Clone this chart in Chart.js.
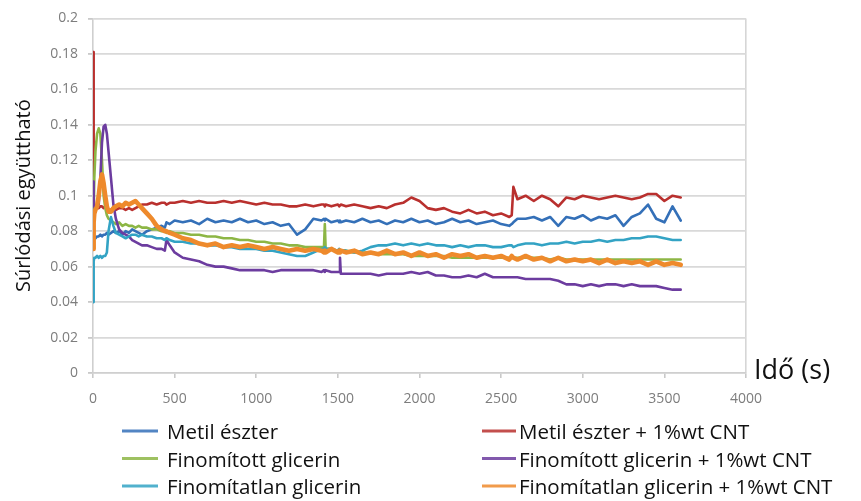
<!DOCTYPE html>
<html>
<head>
<meta charset="utf-8">
<script src="https://cdn.jsdelivr.net/npm/chart.js@4/dist/chart.umd.min.js"></script>
<style>
  html, body { margin: 0; padding: 0; background: #ffffff; }
  canvas { display: block; }
</style>
</head>
<body>
<canvas id="chart" width="861" height="501"></canvas>
<script>
// Measurement times (s)
const seconds = [
  0, 4, 8, 15, 25, 35, 45, 55, 65, 75, 85, 95, 110, 125, 140, 160, 180, 200, 220, 240, 260, 280, 300, 330, 360, 390, 420, 440, 450, 470, 500,
  550, 600, 650, 700, 750, 800, 850, 900, 950, 1000, 1050, 1100, 1150, 1200, 1250, 1300, 1350, 1400,
  1415, 1420, 1425, 1460, 1500, 1508, 1513, 1518,
  1550, 1600, 1650, 1700, 1750, 1800, 1850, 1900, 1950, 2000, 2050, 2100, 2150, 2200, 2250, 2300, 2350, 2400, 2450, 2500, 2550,
  2565, 2575,
  2600, 2650, 2700, 2750, 2800, 2850, 2900, 2950, 3000, 3050, 3100, 3150, 3200, 3250, 3300, 3350, 3400, 3450, 3500, 3550, 3600
];

// Friction coefficient per lubricant
const metilEszter = [
  0.074, 0.075, 0.076, 0.076, 0.077, 0.077, 0.078, 0.077, 0.078, 0.078, 0.079, 0.078, 0.079, 0.080, 0.079, 0.080, 0.078, 0.080, 0.079, 0.081, 0.080, 0.079, 0.078, 0.080, 0.081, 0.082, 0.083, 0.082, 0.085, 0.084, 0.086,
  0.085, 0.086, 0.084, 0.087, 0.085, 0.086, 0.085, 0.087, 0.085, 0.086, 0.084, 0.085, 0.083, 0.084, 0.078, 0.081, 0.087, 0.086,
  0.087, 0.086, 0.087, 0.085, 0.086, 0.085, 0.086, 0.085,
  0.086, 0.085, 0.087, 0.085, 0.086, 0.084, 0.086, 0.085, 0.087, 0.085, 0.086, 0.084, 0.085, 0.087, 0.085, 0.086, 0.084, 0.085, 0.086, 0.084, 0.083,
  0.084, 0.085,
  0.087, 0.087, 0.088, 0.086, 0.088, 0.083, 0.088, 0.087, 0.089, 0.086, 0.088, 0.087, 0.089, 0.083, 0.088, 0.090, 0.095, 0.087, 0.085, 0.094, 0.086
];
const metilEszterCNT = [
  0.181, 0.092, 0.090, 0.092, 0.093, 0.093, 0.094, 0.094, 0.093, 0.094, 0.093, 0.092, 0.092, 0.093, 0.092, 0.093, 0.093, 0.092, 0.093, 0.092, 0.093, 0.094, 0.095, 0.095, 0.096, 0.095, 0.096, 0.096, 0.095, 0.096, 0.096,
  0.097, 0.096, 0.097, 0.096, 0.096, 0.097, 0.096, 0.097, 0.096, 0.095, 0.096, 0.095, 0.095, 0.094, 0.094, 0.095, 0.094, 0.095,
  0.095, 0.094, 0.095, 0.094, 0.095, 0.094, 0.094, 0.095,
  0.094, 0.095, 0.094, 0.093, 0.094, 0.093, 0.095, 0.096, 0.099, 0.097, 0.093, 0.092, 0.093, 0.091, 0.090, 0.092, 0.090, 0.091, 0.089, 0.090, 0.088,
  0.089, 0.105,
  0.098, 0.100, 0.097, 0.100, 0.098, 0.094, 0.099, 0.098, 0.100, 0.099, 0.098, 0.099, 0.100, 0.099, 0.098, 0.099, 0.101, 0.101, 0.097, 0.100, 0.099
];
const finomitottGlicerin = [
  0.080, 0.090, 0.110, 0.125, 0.135, 0.138, 0.135, 0.120, 0.100, 0.093, 0.089, 0.087, 0.086, 0.085, 0.084, 0.085, 0.083, 0.084, 0.083, 0.083, 0.082, 0.083, 0.082, 0.082, 0.081, 0.081, 0.080, 0.080, 0.079, 0.080, 0.079,
  0.079, 0.078, 0.078, 0.077, 0.077, 0.076, 0.076, 0.075, 0.075, 0.074, 0.074, 0.073, 0.073, 0.072, 0.072, 0.071, 0.071, 0.071,
  0.071, 0.084, 0.070, 0.070, 0.069, 0.069, 0.069, 0.069,
  0.069, 0.068, 0.068, 0.068, 0.067, 0.067, 0.067, 0.067, 0.066, 0.066, 0.066, 0.066, 0.066, 0.065, 0.065, 0.065, 0.065, 0.065, 0.065, 0.065, 0.065,
  0.065, 0.065,
  0.065, 0.065, 0.065, 0.065, 0.064, 0.065, 0.064, 0.064, 0.064, 0.064, 0.064, 0.064, 0.064, 0.064, 0.064, 0.064, 0.064, 0.064, 0.064, 0.064, 0.064
];
const finomitottGlicerinCNT = [
  0.108, 0.098, 0.094, 0.092, 0.093, 0.095, 0.110, 0.130, 0.139, 0.140, 0.135, 0.125, 0.110, 0.095, 0.087, 0.081, 0.079, 0.078, 0.077, 0.075, 0.074, 0.073, 0.072, 0.072, 0.071, 0.070, 0.070, 0.069, 0.075, 0.072, 0.068,
  0.065, 0.064, 0.063, 0.061, 0.060, 0.060, 0.059, 0.058, 0.058, 0.058, 0.058, 0.057, 0.058, 0.058, 0.058, 0.058, 0.058, 0.057,
  0.058, 0.057, 0.058, 0.057, 0.057, 0.057, 0.065, 0.056,
  0.056, 0.056, 0.056, 0.056, 0.055, 0.056, 0.056, 0.056, 0.057, 0.056, 0.057, 0.055, 0.055, 0.054, 0.054, 0.055, 0.054, 0.056, 0.054, 0.054, 0.054,
  0.054, 0.054,
  0.054, 0.053, 0.053, 0.053, 0.053, 0.052, 0.050, 0.050, 0.049, 0.050, 0.049, 0.050, 0.050, 0.049, 0.050, 0.049, 0.049, 0.049, 0.048, 0.047, 0.047
];
const finomitatlanGlicerin = [
  0.040, 0.063, 0.065, 0.065, 0.066, 0.065, 0.066, 0.065, 0.066, 0.066, 0.068, 0.080, 0.088, 0.083, 0.079, 0.078, 0.077, 0.076, 0.077, 0.078, 0.078, 0.077, 0.078, 0.077, 0.077, 0.076, 0.076, 0.075, 0.076, 0.075, 0.074,
  0.074, 0.073, 0.073, 0.072, 0.072, 0.071, 0.071, 0.070, 0.070, 0.070, 0.069, 0.069, 0.068, 0.067, 0.066, 0.066, 0.068, 0.070,
  0.070, 0.071, 0.070, 0.070, 0.069, 0.070, 0.070, 0.069,
  0.069, 0.068, 0.069, 0.071, 0.072, 0.072, 0.073, 0.072, 0.073, 0.072, 0.073, 0.072, 0.072, 0.071, 0.072, 0.071, 0.072, 0.072, 0.071, 0.071, 0.072,
  0.072, 0.071,
  0.072, 0.073, 0.073, 0.072, 0.073, 0.073, 0.074, 0.073, 0.074, 0.074, 0.075, 0.074, 0.075, 0.075, 0.076, 0.076, 0.077, 0.077, 0.076, 0.075, 0.075
];
const finomitatlanGlicerinCNT = [
  0.070, 0.085, 0.090, 0.092, 0.094, 0.100, 0.108, 0.112, 0.107, 0.100, 0.094, 0.091, 0.091, 0.093, 0.094, 0.095, 0.094, 0.096, 0.095, 0.096, 0.097, 0.095, 0.093, 0.090, 0.087, 0.083, 0.081, 0.080, 0.080, 0.079, 0.078,
  0.076, 0.075, 0.073, 0.072, 0.073, 0.071, 0.072, 0.071, 0.072, 0.071, 0.070, 0.071, 0.070, 0.069, 0.070, 0.069, 0.070, 0.069,
  0.068, 0.069, 0.068, 0.070, 0.068, 0.069, 0.068, 0.069,
  0.068, 0.069, 0.067, 0.068, 0.067, 0.069, 0.067, 0.068, 0.066, 0.068, 0.066, 0.067, 0.065, 0.067, 0.066, 0.067, 0.065, 0.066, 0.065, 0.066, 0.064,
  0.066, 0.065,
  0.064, 0.066, 0.064, 0.065, 0.063, 0.065, 0.063, 0.064, 0.063, 0.064, 0.062, 0.064, 0.062, 0.063, 0.062, 0.063, 0.061, 0.063, 0.061, 0.062, 0.061
];

const seriesNames = [
  'Metil észter', 'Metil észter + 1%wt CNT',
  'Finomított glicerin', 'Finomított glicerin + 1%wt CNT',
  'Finomítatlan glicerin', 'Finomítatlan glicerin + 1%wt CNT'
];
const seriesValues = [metilEszter, metilEszterCNT, finomitottGlicerin, finomitottGlicerinCNT, finomitatlanGlicerin, finomitatlanGlicerinCNT];
const seriesColors = ['#3470B8', '#B9302E', '#8DB645', '#6C3C9F', '#33A3C4', '#EE8A2C'];
const seriesWidths = [2.6, 2.6, 2.6, 2.6, 2.6, 4.6];

const xTicks = [0, 500, 1000, 1500, 2000, 2500, 3000, 3500, 4000];
const yTicks = [0, 0.02, 0.04, 0.06, 0.08, 0.1, 0.12, 0.14, 0.16, 0.18, 0.2];
const xAxisTitle = 'Idő (s)';
const yAxisTitle = 'Súrlódási együttható';

const datasets = seriesNames.map((name, i) => ({
  label: name,
  data: seconds.map((t, k) => ({ x: t, y: seriesValues[i][k] })),
  borderColor: seriesColors[i],
  backgroundColor: seriesColors[i],
  borderWidth: seriesWidths[i],
  pointRadius: 0,
  tension: 0,
  fill: false,
  borderJoinStyle: 'round',
  borderCapStyle: 'round',
  order: seriesNames.length - i
}));

// Legend in two columns below the plot, plus the x-axis title to the right of the axis
const legendLayout = {
  rows: [439, 466.5, 494],
  columns: [
    { x0: 122, x1: 158, tx: 167 },
    { x0: 482, x1: 516, tx: 519 }
  ]
};

const annotationsPlugin = {
  id: 'annotations',
  afterDraw(chart) {
    const ctx = chart.ctx;
    ctx.save();
    // x-axis title
    ctx.font = '27px "Open Sans"';
    ctx.fillStyle = '#111111';
    ctx.textAlign = 'left';
    ctx.textBaseline = 'alphabetic';
    ctx.fillText(xAxisTitle, chart.chartArea.right + 8, chart.chartArea.bottom + 6);

    // legend: left column = base lubricants, right column = with CNT
    ctx.font = '20.5px "Open Sans"';
    seriesNames.forEach((name, i) => {
      const col = legendLayout.columns[i % 2];
      const base = legendLayout.rows[Math.floor(i / 2)];
      ctx.strokeStyle = seriesColors[i];
      ctx.globalAlpha = 0.85;
      ctx.lineWidth = 3;
      ctx.beginPath();
      ctx.moveTo(col.x0, base - 8);
      ctx.lineTo(col.x1, base - 8);
      ctx.stroke();
      ctx.globalAlpha = 1;
      ctx.fillStyle = '#111111';
      ctx.fillText(name, col.tx, base);
    });
    ctx.restore();
  }
};

new Chart(document.getElementById('chart'), {
  type: 'line',
  data: { datasets },
  options: {
    responsive: false,
    animation: false,
    events: [],
    layout: { padding: { left: 0, top: 17, right: 115, bottom: 88 } },
    plugins: {
      legend: { display: false },
      tooltip: { enabled: false },
      title: { display: false }
    },
    scales: {
      x: {
        type: 'linear',
        min: 0,
        max: 4000,
        afterBuildTicks: (scale) => { scale.ticks = xTicks.map(v => ({ value: v })); },
        afterFit: (scale) => { scale.height = 40; },
        ticks: {
          callback: (v) => String(v),
          font: { family: 'Open Sans', size: 14 },
          color: '#7d7d7d',
          padding: 13,
          maxRotation: 0,
          autoSkip: false
        },
        grid: {
          drawOnChartArea: true,
          drawTicks: true,
          tickLength: 5,
          tickColor: '#c9c9c9',
          color: (c) => (c.tick && c.tick.value === 4000 ? '#d6d6d6' : 'rgba(0,0,0,0)'),
          lineWidth: 1.6
        },
        border: { display: true, color: '#cfcfcf', width: 1.6 }
      },
      y: {
        type: 'linear',
        min: 0,
        max: 0.2,
        afterBuildTicks: (scale) => { scale.ticks = yTicks.map(v => ({ value: v })); },
        afterFit: (scale) => { scale.width = 93; },
        ticks: {
          callback: (v) => String(Number(v.toFixed(2))),
          font: { family: 'Open Sans', size: 14 },
          color: '#7d7d7d',
          padding: 10
        },
        grid: {
          color: '#d9d9d9',
          lineWidth: 1.8,
          drawTicks: true,
          tickLength: 5,
          tickColor: '#c9c9c9'
        },
        border: { display: true, color: '#cfcfcf', width: 1.6 },
        title: {
          display: true,
          text: yAxisTitle,
          font: { family: 'Open Sans', size: 20 },
          color: '#111111',
          padding: { top: 12, bottom: 0 }
        }
      }
    }
  },
  plugins: [annotationsPlugin]
});
</script>
</body>
</html>
